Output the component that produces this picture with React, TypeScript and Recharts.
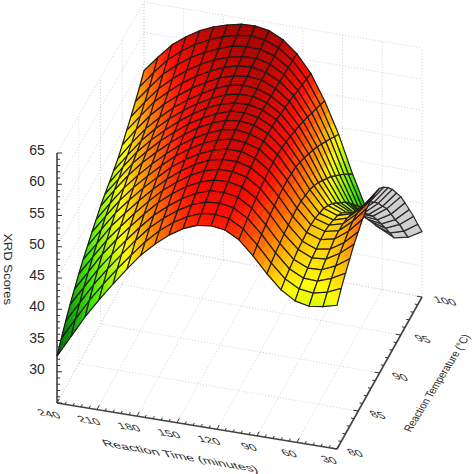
import React from 'react';
import { ScatterChart, Scatter, XAxis, YAxis, ReferenceLine } from 'recharts';

const times=[240,229.5,219,208.5,198,187.5,177,166.5,156,145.5,135,124.5,114,103.5,93,82.5,72,61.5,51,40.5,30];
const temps=[80,81,82,83,84,85,86,87,88,89,90,91,92,93,94,95,96,97,98,99,100];
const scoresT80=[32.5,36.0,39.5,42.6,45.5,48.3,50.9,53.0,54.8,56.2,57.1,57.4,57.1,55.9,53.7,51.2,49.0,47.6,47.1,47.4,48.0];
const scoresT81=[34.1,37.5,40.9,43.9,46.7,49.3,51.8,53.9,55.6,56.9,57.8,58.0,57.7,56.4,54.2,51.7,49.5,48.3,48.0,48.5,49.5];
const scoresT82=[35.6,38.9,42.2,45.1,47.8,50.4,52.8,54.7,56.3,57.6,58.4,58.6,58.2,56.9,54.7,52.1,49.9,48.8,48.7,49.5,50.7];
const scoresT83=[37.0,40.2,43.4,46.2,48.8,51.3,53.6,55.4,57.0,58.2,59.0,59.1,58.7,57.3,55.0,52.4,50.2,49.2,49.3,50.3,51.8];
const scoresT84=[38.2,41.4,44.6,47.3,49.8,52.2,54.4,56.2,57.7,58.8,59.5,59.6,59.1,57.7,55.4,52.7,50.6,49.6,49.8,51.1,52.9];
const scoresT85=[39.4,42.5,45.6,48.2,50.7,53.0,55.1,56.8,58.3,59.4,60.0,60.0,59.5,58.0,55.6,52.9,50.7,49.8,50.2,51.6,53.7];
const scoresT86=[40.5,43.5,46.6,49.1,51.5,53.7,55.7,57.4,58.8,59.9,60.4,60.4,59.8,58.3,55.9,53.1,50.9,50.1,50.6,52.2,54.5];
const scoresT87=[41.4,44.5,47.5,50.0,52.3,54.4,56.4,58.0,59.3,60.3,60.8,60.8,60.1,58.5,56.0,53.2,50.9,50.2,50.7,52.6,55.0];
const scoresT88=[42.4,45.4,48.3,50.8,53.0,55.1,57.0,58.5,59.8,60.7,61.2,61.0,60.3,58.6,56.1,53.1,50.7,50.0,50.6,52.6,55.2];
const scoresT89=[43.2,46.2,49.1,51.5,53.7,55.7,57.5,59.0,60.2,61.1,61.5,61.2,60.4,58.6,55.9,52.8,50.3,49.6,50.3,52.3,55.0];
const scoresT90=[44.1,47.1,49.9,52.3,54.4,56.3,58.0,59.5,60.6,61.4,61.7,61.4,60.4,58.5,55.8,52.5,49.9,49.1,49.8,51.8,54.6];
const scoresT91=[44.8,47.7,50.6,52.9,55.0,56.8,58.5,59.8,60.9,61.7,61.8,61.4,60.3,58.2,55.3,51.9,49.1,48.3,48.8,50.9,53.6];
const scoresT92=[45.4,48.4,51.2,53.5,55.5,57.3,58.9,60.2,61.2,61.8,61.9,61.4,60.2,57.9,54.8,51.2,48.2,47.2,47.7,49.6,52.3];
const scoresT93=[46.1,49.0,51.8,54.1,56.1,57.8,59.3,60.5,61.5,62.0,62.0,61.3,59.9,57.5,54.2,50.3,47.1,46.0,46.3,48.2,50.8];
const scoresT94=[46.8,49.8,52.5,54.7,56.7,58.3,59.7,60.9,61.8,62.2,62.0,61.2,59.7,57.1,53.6,49.4,45.9,44.6,44.8,46.5,49.0];
const scoresT95=[47.8,50.7,53.4,55.6,57.4,59.0,60.3,61.4,62.1,62.4,62.2,61.2,59.5,56.6,52.9,48.5,44.8,43.3,43.3,44.9,47.2];
const scoresT96=[48.9,51.7,54.4,56.4,58.2,59.7,60.9,61.9,62.5,62.7,62.2,61.1,59.2,56.1,52.1,47.4,43.4,41.7,41.5,42.8,45.0];
const scoresT97=[49.9,52.7,55.3,57.3,59.0,60.4,61.5,62.3,62.8,62.9,62.3,61.0,58.8,55.5,51.3,46.3,41.9,40.0,39.6,40.7,42.7];
const scoresT98=[51.1,53.8,56.4,58.3,59.9,61.1,62.1,62.9,63.2,63.1,62.4,60.9,58.5,55.0,50.5,45.2,40.5,38.3,37.7,38.7,40.4];
const scoresT99=[52.3,55.0,57.5,59.3,60.8,61.9,62.8,63.4,63.7,63.4,62.5,60.8,58.2,54.4,49.6,44.0,39.0,36.5,35.7,36.4,37.9];
const scoresT100=[53.7,56.3,58.7,60.4,61.8,62.8,63.5,64.0,64.1,63.7,62.6,60.7,57.9,53.8,48.8,42.8,37.5,34.8,33.7,34.2,35.5];
const scores=[scoresT80,scoresT81,scoresT82,scoresT83,scoresT84,scoresT85,scoresT86,scoresT87,scoresT88,scoresT89,scoresT90,scoresT91,scoresT92,scoresT93,scoresT94,scoresT95,scoresT96,scoresT97,scoresT98,scoresT99,scoresT100];

const timeTicks=[240,210,180,150,120,90,60,30];
const tempTicks=[80,85,90,95,100];
const scoreTicks=[30,35,40,45,50,55,60,65];
const W=472,H=474;
const project=(t:number,T:number,z:number)=>{
  const u=(240-t)/210,v=(T-80)/20;
  const a=(1-u)*(1-v),b=u*(1-v),c=u*v,d=(1-u)*v;
  const fx=a*57+b*337+c*422+d*144;
  const fy=a*403+b*449+c*297+d*245;
  const h=a*250+b*250+c*249+d*243;
  return {x:fx,y:fy-h*(z-25)/40};
};
const stops:[number,number[]][]=[[30,[0,50,0]],[36,[0,150,0]],[42,[70,235,0]],[48.5,[255,255,0]],[53,[255,135,0]],[58,[255,10,0]],[66,[130,0,0]]];
const color=(z:number)=>{
  if(z<=stops[0][0])return `rgb(${stops[0][1]})`;
  for(let i=1;i<stops.length;i++){if(z<=stops[i][0]){const [a,ca]=stops[i-1],[b,cb]=stops[i];const t=(z-a)/(b-a);return `rgb(${ca.map((c,k)=>Math.round(c+(cb[k]-c)*t)).join(',')})`;}}
  return 'rgb(130,0,0)';
};
const quads:any[]=[];
for(let j=19;j>=0;j--)for(let i=0;i<20;i++){
  const idx=[[i,j],[i+1,j],[i+1,j+1],[i,j+1]];
  const pts=idx.map(([a,b])=>project(times[a],temps[b],scores[b][a]));
  const zs=idx.map(([a,b])=>scores[b][a]);
  let area=0;pts.forEach((p,k)=>{const q=pts[(k+1)%4];area+=p.x*q.y-q.x*p.y;});
  const cx=pts.reduce((s,p)=>s+p.x,0)/4,cy=pts.reduce((s,p)=>s+p.y,0)/4;
  quads.push({sx:cx,sy:cy,pts,zs,front:area<0});
}
const Quad=(p:any)=>{
  const {cx,cy,payload:q}=p;const dx=cx-q.sx,dy=cy-q.sy;
  const P=(a:number,b:number)=>{const [p0,p1,p2,p3]=q.pts;return {x:(1-a)*(1-b)*p0.x+a*(1-b)*p1.x+a*b*p2.x+(1-a)*b*p3.x+dx,y:(1-a)*(1-b)*p0.y+a*(1-b)*p1.y+a*b*p2.y+(1-a)*b*p3.y+dy};};
  const Z=(a:number,b:number)=>(1-a)*(1-b)*q.zs[0]+a*(1-b)*q.zs[1]+a*b*q.zs[2]+(1-a)*b*q.zs[3];
  const outline=q.pts.map((s:any)=>`${s.x+dx},${s.y+dy}`).join(' ');
  if(!q.front)return <polygon points={outline} fill="#cfcfcf" stroke="#2a2a2a" strokeWidth={1.2}/>;
  const n=3,subs=[];
  for(let a=0;a<n;a++)for(let b=0;b<n;b++){
    const c=[P(a/n,b/n),P((a+1)/n,b/n),P((a+1)/n,(b+1)/n),P(a/n,(b+1)/n)].map(s=>`${s.x},${s.y}`).join(' ');
    const col=color(Z((a+.5)/n,(b+.5)/n));
    subs.push(<polygon key={a*n+b} points={c} fill={col} stroke={col} strokeWidth={0.6}/>);
  }
  return <g>{subs}<polygon points={outline} fill="none" stroke="#1a1a1a" strokeWidth={1.2}/></g>;
};
const seg=(a:any,b:any)=>[{x:a.x,y:a.y},{x:b.x,y:b.y}] as any;
const gridLines:any[]=[];
const T0=240,T1=30,K0=80,K1=100,Z0=25,Z1=65;
const zLines=[25,30,35,40,45,50,55,60,65];
timeTicks.forEach(t=>{gridLines.push(seg(project(t,K0,Z0),project(t,K1,Z0)));gridLines.push(seg(project(t,K1,Z0),project(t,K1,Z1)));});
tempTicks.forEach(T=>{gridLines.push(seg(project(T0,T,Z0),project(T1,T,Z0)));gridLines.push(seg(project(T0,T,Z0),project(T0,T,Z1)));});
zLines.forEach(z=>{gridLines.push(seg(project(T0,K0,z),project(T0,K1,z)));gridLines.push(seg(project(T0,K1,z),project(T1,K1,z)));});
const axisLines=[seg(project(T0,K0,Z0),project(T0,K0,Z1)),seg(project(T0,K0,Z0),project(T1,K0,Z0)),seg(project(T1,K0,Z0),project(T1,K1,Z0))];
const tickLines:any[]=[];
for(let z=25;z<=65;z++){const p=project(T0,K0,z);tickLines.push([{x:p.x,y:p.y},{x:p.x+(z%5===0?5:3),y:p.y}]);}
for(let t=240;t>=30;t-=6){const p=project(t,K0,Z0);const l=(t%30===0)?5:3;tickLines.push([{x:p.x,y:p.y},{x:p.x+l*0.45,y:p.y-l*0.85}]);}
for(let T=80;T<=100;T++){const p=project(T1,T,Z0);const l=(T%5===0)?5:3;tickLines.push([{x:p.x,y:p.y},{x:p.x-l,y:p.y-l*0.16}]);}
const labelPos=(x:number,y:number,text:string,m:number[],size=13,len?:number)=>({sx:x,sy:y,text,m,size,len});
const texts=[
  ...scoreTicks.map(z=>{const p=project(T0,K0,z);return labelPos(p.x-20,p.y-3,String(z),[1,0,0,1],14);}),
  ...timeTicks.map(t=>{const p=project(t,K0,Z0);return labelPos(p.x-8,p.y+11,String(t),[1,.17,.45,.72],13);}),
  ...tempTicks.map(T=>{const p=project(T1,T,Z0);return labelPos(p.x+18+(T-80)*.25,p.y+4,String(T),[1,.17,.45,.72],13);}),
  labelPos(180,456,'Reaction Time (minutes)',[1.1,.19,.42,.75],13),
  labelPos(437,383,'Reaction Temperature (\u00b0C)',[.36,-.58,.75,.3],14),
  labelPos(8,269,'XRD Scores',[0,1,-.9,.1],13),
];
const Label=(p:any)=>{const {cx,cy,payload:q}=p;const [a,b,c,d]=q.m;return <text transform={`matrix(${a} ${b} ${c} ${d} ${cx} ${cy})`} textAnchor="middle" dominantBaseline="central" fontFamily="Liberation Sans" fontSize={q.size} fill="#2a2a2a">{q.text}</text>;};
export default function App(){
  return <div style={{position:'absolute',left:0,top:0}}>
    <ScatterChart width={W} height={H} margin={{top:0,right:0,bottom:0,left:0}}>
      <XAxis type="number" dataKey="sx" domain={[0,W]} hide/>
      <YAxis type="number" dataKey="sy" domain={[0,H]} reversed hide/>
      {gridLines.map((s,i)=><ReferenceLine key={i} segment={s} stroke="#d4d4d8" strokeDasharray="1 2" strokeWidth={1}/>)}
      {axisLines.map((s,i)=><ReferenceLine key={i} segment={s} stroke="#444" strokeWidth={1.6}/>)}
      {tickLines.map((s,i)=><ReferenceLine key={i} segment={s} stroke="#333" strokeWidth={1}/>)}
      <Scatter data={quads} shape={Quad} isAnimationActive={false}/>
      <Scatter data={texts} shape={Label} isAnimationActive={false}/>
    </ScatterChart>
  </div>;
}
